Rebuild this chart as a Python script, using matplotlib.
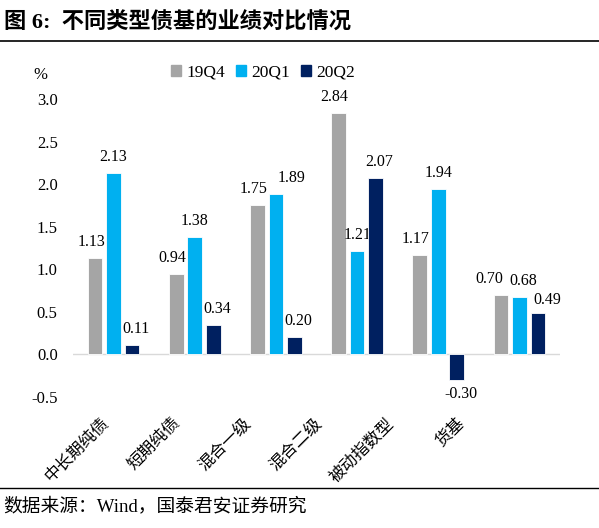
import numpy as np
from matplotlib import pyplot as plt
from matplotlib.lines import Line2D
from matplotlib.transforms import ScaledTranslation

plt.rcParams['font.family'] = ['Liberation Serif', 'Noto Sans CJK SC']

categories = ['中长期纯债', '短期纯债', '混合一级', '混合二级', '被动指数型', '货基']
series_names = ['19Q4', '20Q1', '20Q2']
q4_19 = [1.13, 0.94, 1.75, 2.84, 1.17, 0.70]
q1_20 = [2.13, 1.38, 1.89, 1.21, 1.94, 0.68]
q2_20 = [0.11, 0.34, 0.20, 2.07, -0.30, 0.49]
colors = ['#A5A5A5', '#00B0F0', '#002060']

# label nudges (pixels), like excel moves them to avoid overlaps
series_dx = [-4, 0, 4]
special_dx = {(1, 2): 16, (0, 5): -12, (1, 5): 4, (2, 5): 9}
special_dy = {(2, 5): 13}

fig = plt.figure(figsize=(5.99, 5.28), dpi=100)
ax = fig.add_axes([73 / 599, 1 - 397 / 528, 487 / 599, 298 / 528])

x = np.arange(len(categories))
width = 0.18
offsets = [-0.228, 0, 0.228]
for s, (vals, off, c, name) in enumerate(zip([q4_19, q1_20, q2_20], offsets, colors, series_names)):
    bars = ax.bar(x + off, vals, width, color=c, edgecolor='white', linewidth=0.6, label=name, zorder=3)
    for i, (b, v) in enumerate(zip(bars, vals)):
        dx = special_dx.get((s, i), series_dx[s])
        dy = special_dy.get((s, i), 16)
        if v < 0:
            dy = -14
        ax.annotate(f'{v:.2f}', (b.get_x() + b.get_width() / 2, v), xytext=(dx, dy),
                    textcoords='offset pixels', ha='center', va='center', fontsize=11.5,
                    annotation_clip=False)

ax.axhline(0, color='#D9D9D9', linewidth=1, zorder=2)
ax.set_xlim(-0.5, len(categories) - 0.5)
ax.set_ylim(-0.5, 3.0)
yt = np.arange(-0.5, 3.01, 0.5)
ax.set_yticks(yt)
ax.set_yticklabels([f'{t:.1f}' for t in yt], fontsize=12)
ax.set_xticks(x)
ax.set_xticklabels(categories, rotation=45, ha='right', rotation_mode='anchor', fontsize=12)
ax.tick_params(axis='both', length=0)
ax.tick_params(axis='y', pad=11)
ax.tick_params(axis='x', pad=13)
for i, lbl in enumerate(ax.get_xticklabels()):
    shift = (-13 - 10 * i) / 100
    lbl.set_transform(lbl.get_transform() + ScaledTranslation(shift, 0, fig.dpi_scale_trans))
for sp in ax.spines.values():
    sp.set_visible(False)

fig.text(40 / 599, 1 - 75 / 528, '%', fontsize=12, ha='center', va='center')

handles = [plt.Rectangle((0, 0), 1, 1, color=c) for c in colors]
fig.legend(handles, series_names, loc='center', bbox_to_anchor=(263 / 599, 1 - 73 / 528), ncol=3,
           frameon=False, fontsize=12.5, handlelength=0.6, handleheight=0.6, handletextpad=0.3,
           columnspacing=0.6)

fig.text(0.006, 1 - 22 / 528, '图 6:  不同类型债基的业绩对比情况', fontsize=16, fontweight='bold',
         ha='left', va='center')
fig.add_artist(Line2D([0, 1], [1 - 41 / 528, 1 - 41 / 528], color='black', linewidth=1.2))
fig.add_artist(Line2D([0, 1], [1 - 488 / 528, 1 - 488 / 528], color='black', linewidth=1.0))
fig.text(0.006, 1 - 506 / 528, '数据来源：Wind，国泰君安证券研究', fontsize=13.5, ha='left', va='center')

fig.savefig('out.png', dpi=100)
